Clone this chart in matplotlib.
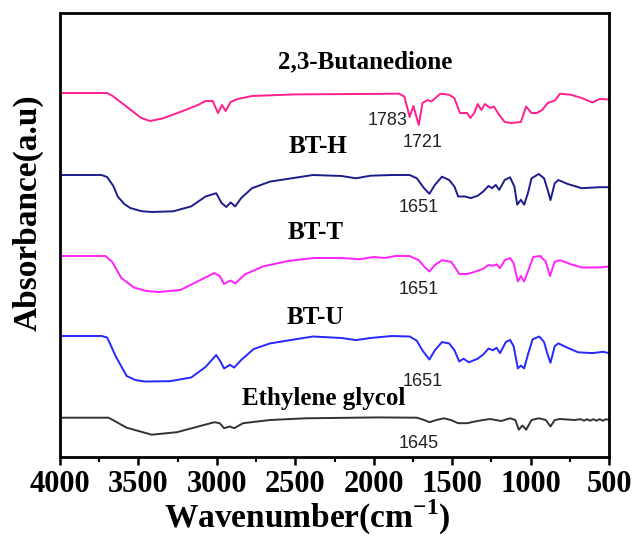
import matplotlib
matplotlib.use("Agg")
import matplotlib.pyplot as plt
from matplotlib.ticker import MultipleLocator

plt.rcParams['mathtext.fontset'] = 'custom'
plt.rcParams['mathtext.rm'] = 'Liberation Serif:bold'
plt.rcParams['mathtext.bf'] = 'Liberation Serif:bold'

# FTIR spectra: wavenumber (cm-1) and signal relative to each baseline (a.u.)
wn_but = [4000, 3700, 3667, 3576, 3484, 3427, 3348, 3234, 3119, 3072, 3026, 2993, 2967, 2944,
          2912, 2867, 2776, 2500, 2200, 1839, 1804, 1771, 1747, 1713, 1689, 1657, 1632, 1575,
          1518, 1486, 1450, 1404, 1384, 1359, 1337, 1314, 1291, 1257, 1234, 1200, 1165, 1120,
          1062, 1028, 994, 960, 926, 891, 845, 812, 742, 674, 606, 560, 500]
sig_but = [0, 0, -0.027, -0.136, -0.248, -0.28, -0.255, -0.19, -0.119, -0.08, -0.08, -0.20,
           -0.12, -0.18, -0.09, -0.06, -0.03, -0.014, -0.011, -0.007, -0.036, -0.24, -0.13, -0.32,
           -0.10, -0.07, -0.085, -0.007, -0.018, -0.05, -0.20, -0.20, -0.25, -0.20, -0.11, -0.17,
           -0.11, -0.15, -0.135, -0.22, -0.29, -0.30, -0.29, -0.135, -0.20, -0.20, -0.17, -0.10,
           -0.075, -0.007, -0.018, -0.05, -0.095, -0.06, -0.065]

wn_bth = [4000, 3735, 3700, 3660, 3632, 3590, 3552, 3480, 3415, 3278, 3164, 3072, 3004, 2970,
          2940, 2912, 2883, 2845, 2776, 2661, 2524, 2387, 2205, 2113, 2021, 1885, 1771, 1725,
          1679, 1645, 1610, 1565, 1519, 1485, 1462, 1416, 1382, 1337, 1302, 1268, 1245, 1222,
          1200, 1165, 1131, 1103, 1085, 1062, 1041, 1017, 994, 948, 914, 891, 873, 846, 823,
          765, 674, 560, 500]
sig_bth = [0, 0, -0.02, -0.11, -0.215, -0.29, -0.33, -0.362, -0.37, -0.363, -0.314, -0.215,
           -0.182, -0.28, -0.32, -0.274, -0.314, -0.231, -0.132, -0.066, -0.033, 0, -0.01, -0.033,
           -0.007, 0, 0, -0.033, -0.132, -0.188, -0.099, -0.017, -0.05, -0.116, -0.215, -0.215,
           -0.231, -0.208, -0.165, -0.109, -0.132, -0.099, -0.149, -0.05, -0.023, -0.116, -0.297,
           -0.248, -0.297, -0.182, -0.033, 0.01, -0.033, -0.149, -0.251, -0.083, -0.05, -0.089,
           -0.132, -0.122, -0.122]

wn_btt = [4000, 3710, 3667, 3609, 3529, 3450, 3370, 3233, 3118, 3016, 2982, 2954, 2912, 2883,
          2822, 2707, 2547, 2387, 2205, 2091, 1999, 1930, 1862, 1771, 1713, 1679, 1645, 1610,
          1565, 1508, 1485, 1455, 1404, 1359, 1302, 1268, 1234, 1217, 1195, 1165, 1131, 1108,
          1081, 1062, 1041, 1017, 983, 937, 903, 876, 846, 812, 742, 674, 560, 500]
sig_btt = [0, 0, -0.06, -0.22, -0.315, -0.35, -0.36, -0.34, -0.25, -0.17, -0.20, -0.28, -0.245,
           -0.275, -0.185, -0.105, -0.05, -0.02, -0.02, -0.032, -0.01, -0.02, 0, 0, -0.042,
           -0.105, -0.155, -0.09, -0.042, -0.057, -0.105, -0.18, -0.18, -0.16, -0.128, -0.09,
           -0.097, -0.083, -0.122, -0.042, -0.02, -0.073, -0.255, -0.20, -0.255, -0.155, -0.01,
           0, -0.057, -0.20, -0.057, -0.042, -0.083, -0.115, -0.115, -0.105]

wn_btu = [4000, 3735, 3700, 3690, 3644, 3575, 3520, 3461, 3301, 3164, 3072, 3004, 2977, 2954,
          2917, 2890, 2845, 2765, 2661, 2524, 2387, 2205, 2113, 2021, 1885, 1771, 1725, 1690,
          1645, 1610, 1565, 1519, 1485, 1455, 1427, 1394, 1337, 1302, 1268, 1240, 1217, 1195,
          1158, 1131, 1108, 1081, 1062, 1041, 1017, 987, 944, 914, 891, 873, 846, 823, 765, 697,
          606, 538, 500]
sig_btu = [0, 0, -0.015, -0.046, -0.206, -0.40, -0.44, -0.455, -0.452, -0.415, -0.31, -0.19,
           -0.255, -0.325, -0.288, -0.316, -0.24, -0.13, -0.074, -0.039, -0.005, -0.02, -0.041,
           -0.02, 0, -0.005, -0.047, -0.143, -0.235, -0.143, -0.061, -0.074, -0.143, -0.255,
           -0.227, -0.263, -0.227, -0.186, -0.125, -0.143, -0.117, -0.171, -0.061, -0.039, -0.102,
           -0.324, -0.296, -0.324, -0.186, -0.033, -0.005, -0.061, -0.186, -0.268, -0.102, -0.074,
           -0.117, -0.163, -0.171, -0.158, -0.171]

wn_eg = [4000, 3690, 3575, 3415, 3255, 3118, 3016, 2982, 2954, 2917, 2890, 2833, 2661, 2434,
         1976, 1725, 1679, 1645, 1600, 1554, 1508, 1462, 1404, 1359, 1302, 1257, 1188, 1131,
         1097, 1075, 1052, 1028, 994, 948, 903, 873, 846, 812, 720, 680, 660, 640, 620, 600,
         580, 560, 540, 520, 500]
sig_eg = [0, 0, -0.10, -0.17, -0.145, -0.088, -0.045, -0.055, -0.105, -0.088, -0.105, -0.055,
          -0.023, -0.006, 0.003, 0, -0.023, -0.045, -0.023, -0.006, -0.023, -0.055, -0.055,
          -0.039, -0.023, -0.013, -0.033, -0.006, -0.023, -0.12, -0.078, -0.12, -0.023,
          -0.006, -0.023, -0.088, -0.023, -0.013, -0.023, -0.015, -0.03, -0.015, -0.03, -0.015,
          -0.03, -0.015, -0.03, -0.015, -0.022]

names = ["2,3-Butanedione", "BT-H", "BT-T", "BT-U", "Ethylene glycol"]
peaks = ["1783", "1721", "1651", "1651", "1651", "1645"]

spectra = [(wn_but, sig_but), (wn_bth, sig_bth), (wn_btt, sig_btt), (wn_btu, sig_btu), (wn_eg, sig_eg)]
offsets = [3.96, 3.14, 2.33, 1.53, 0.713]
colors = ["#ff1f8f", "#1c1c8e", "#ff22ff", "#2626ff", "#333333"]
name_pos = [(2053, 4.27), (2358, 3.42), (2371, 2.56), (2371, 1.72), (2320, 0.90)]
peak_pos = [(1913, 3.68), (1690, 3.46), (1716, 2.81), (1716, 1.99), (1690, 1.07), (1716, 0.45)]

fig = plt.figure(figsize=(6.37, 5.37), dpi=100)
ax = fig.add_axes([60 / 637, 80 / 537, 549 / 637, 444 / 537])

for (w, s), off, c in zip(spectra, offsets, colors):
    ax.plot(w, [off + v for v in s], color=c, lw=1.4)

for name, (x, y) in zip(names, name_pos):
    ax.text(x, y, name, ha="center", va="center", fontsize=18, fontweight="bold",
            family="Liberation Serif")
for p, (x, y) in zip(peaks, peak_pos):
    ax.text(x, y, p, ha="center", va="center", fontsize=13, family="Liberation Sans", color="#222222")

ax.set_xlim(4000, 500)
ax.set_ylim(0.32, 4.76)
ax.xaxis.set_major_locator(MultipleLocator(500))
ax.xaxis.set_minor_locator(MultipleLocator(250))
ax.set_yticks([])
ax.tick_params(axis="x", which="major", direction="out", length=6, width=1.8, pad=3.5)
ax.tick_params(axis="x", which="minor", direction="out", length=3.5, width=1.5)
for lab in ax.get_xticklabels():
    lab.set_fontfamily("Liberation Serif")
    lab.set_fontweight("bold")
    lab.set_fontsize(22)
for sp in ax.spines.values():
    sp.set_linewidth(2)

ax.set_xlabel(r"Wavenumber(cm$^{-1}$)", fontsize=24, fontweight="bold", family="Liberation Serif")
ax.xaxis.set_label_coords(0.45, -0.092)
ax.set_ylabel("Absorbance(a.u)", fontsize=24, fontweight="bold", family="Liberation Serif")
ax.yaxis.set_label_coords(-0.03, 0.55)

fig.savefig("out.png", dpi=100)
